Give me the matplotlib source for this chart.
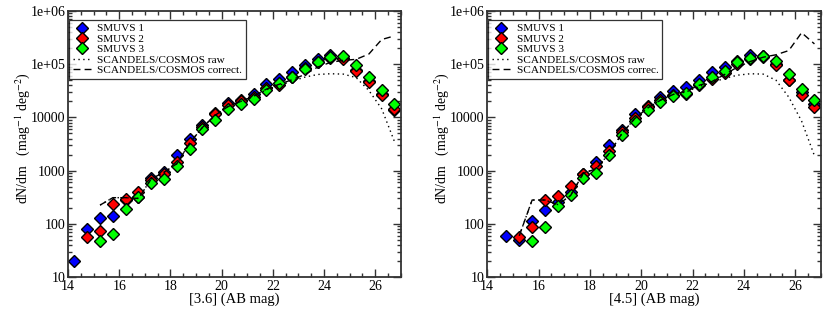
import numpy as np
import matplotlib
matplotlib.use("Agg")
from matplotlib import pyplot as plt
from matplotlib.ticker import LogLocator, MultipleLocator, NullFormatter

plt.rcParams['font.family'] = ['Liberation Serif', 'DejaVu Serif']
plt.rcParams['mathtext.fontset'] = 'stix'

nan = np.nan

# magnitude bin centres
mags = [14.25, 14.75, 15.25, 15.75, 16.25, 16.75, 17.25, 17.75, 18.25,
        18.75, 19.25, 19.75, 20.25, 20.75, 21.25, 21.75, 22.25, 22.75,
        23.25, 23.75, 24.25, 24.75, 25.25, 25.75, 26.25, 26.75]

# ---- [3.6] panel ----
ch1_smuvs1 = [20, 80, 130, 140, 280, 320, 720, 930, 2000, 3900, 7200, 12000, 18500,
              21000, 27000, 42000, 52000, 72000, 95000, 127000, 147000, 128000,
              78000, 48000, 27000, 13800]
ch1_smuvs2 = [nan, 56, 73, 235, 292, 391, 665, 863, 1430, 3340, 6680, 11400, 17100,
              20000, 24500, 35200, 40700, 58200, 83700, 111000, 129000, 123000,
              75500, 46900, 26400, 14400]
ch1_smuvs3 = [nan, nan, 48, 64, 192, 315, 577, 686, 1240, 2580, 5970, 8930, 14200,
              17900, 22500, 32700, 44900, 58200, 80100, 108000, 138000, 143000,
              96600, 56700, 32700, 17900]
ch1_correct = [nan, nan, 225, 310, 310, 300, 700, 930, 1350, 3300, 6500, 11000, 16000,
               20000, 25000, 34000, 42000, 51000, 64000, 88000, 108000, 118000,
               123000, 155000, 290000, 340000]
ch1_raw = [nan, nan, 225, 310, 310, 300, 700, 930, 1350, 3300, 6500, 11000, 16000,
           20000, 25000, 33000, 40000, 48000, 57000, 64000, 66000, 65000,
           56000, 32000, 14500, 3500]

# ---- [4.5] panel ----
ch2_smuvs1 = [nan, 60, 50, 114, 184, 260, 390, 877, 1460, 3050, 5690, 11700, 16300,
              24100, 31300, 37900, 49900, 71600, 86700, 116000, 148000, 140000,
              100000, 50600, 30000, 18100]
ch2_smuvs2 = [nan, nan, 56, 89, 284, 327, 521, 877, 1240, 2310, 5370, 9860, 15600,
              21000, 26000, 28000, 40200, 52100, 67600, 98600, 124000, 137000,
              97000, 50000, 26000, 15800]
ch2_smuvs3 = [nan, nan, nan, 48, 89, 219, 352, 716, 904, 2000, 4570, 8510, 13500,
              19400, 25200, 29200, 42000, 58600, 74800, 108000, 130000, 140000,
              116000, 66700, 34800, 20900]
ch2_correct = [nan, nan, 60, 280, 280, 230, 340, 900, 1080, 2100, 5000, 9500, 15000,
               21000, 27000, 31000, 40000, 47000, 64000, 88000, 112000, 135000,
               150000, 180000, 390000, 240000]
ch2_raw = [nan, nan, 60, 280, 280, 230, 340, 900, 1080, 2100, 5000, 9500, 15000,
           21000, 27000, 30000, 38000, 45000, 54000, 62000, 66000, 65000,
           50000, 24000, 8500, 1900]

yticks = [10, 100, 1000, 10000, 1e5, 1e6]
ytick_labels = ['10', '100', '1000', '10000', '1e+05', '1e+06']


def draw_panel(ax, s1, s2, s3, raw, corr, xlabel, corr_label):
    mk = dict(marker='D', ls='none', ms=6.5, mec='black', mew=1.0)
    ax.plot(mags, s1, mfc='#0000ff', label='SMUVS 1', **mk)
    ax.plot(mags, s2, mfc='#ff0000', label='SMUVS 2', **mk)
    ax.plot(mags, s3, mfc='#00ff00', label='SMUVS 3', **mk)
    ax.plot(mags, raw, color='black', ls=(0, (1, 2.5)), lw=1.0,
            label='SCANDELS/COSMOS raw')
    ax.plot(mags, corr, color='black', ls=(0, (5, 3)), lw=1.0, label=corr_label)

    ax.set_yscale('log')
    ax.set_xlim(14, 27)
    ax.set_ylim(10, 1e6)
    ax.set_yticks(yticks)
    ax.set_yticklabels(ytick_labels)
    ax.yaxis.set_minor_locator(LogLocator(base=10, subs=np.arange(2, 10)))
    ax.yaxis.set_minor_formatter(NullFormatter())
    ax.xaxis.set_major_locator(MultipleLocator(2))
    ax.xaxis.set_minor_locator(MultipleLocator(0.5))
    ax.tick_params(which='both', direction='in', top=True, right=True,
                   labelsize=10, width=1.0, colors='#333333', labelcolor='black')
    ax.tick_params(which='major', length=6, pad=2)
    ax.tick_params(which='minor', length=3)
    for sp in ax.spines.values():
        sp.set_linewidth(1.3)
        sp.set_color('#333333')

    ax.set_xlabel(xlabel, fontsize=10.5, labelpad=0)
    ax.set_ylabel(r'dN/dm   (mag$^{-1}$ deg$^{-2}$)', fontsize=10)
    ax.yaxis.set_label_coords(-0.108, 0.52)

    leg = ax.legend(loc='upper left', bbox_to_anchor=(0.003, 0.966),
                    borderaxespad=0, fontsize=8.1, frameon=True, fancybox=False,
                    edgecolor='black', labelspacing=0.05, handlelength=1.6,
                    handletextpad=0.6, borderpad=0.32, numpoints=1)
    leg.get_frame().set_linewidth(0.9)


fig = plt.figure(figsize=(8.3, 3.12), dpi=100)
ax1 = fig.add_axes([0.082, 0.112, 0.401, 0.853])
ax2 = fig.add_axes([0.587, 0.112, 0.402, 0.853])

draw_panel(ax1, ch1_smuvs1, ch1_smuvs2, ch1_smuvs3, ch1_raw, ch1_correct,
           '[3.6] (AB mag)', 'SCANDELS/COSMOS correct.')
draw_panel(ax2, ch2_smuvs1, ch2_smuvs2, ch2_smuvs3, ch2_raw, ch2_correct,
           '[4.5] (AB mag)', 'SCANDELS/COSMOS correc.')

fig.savefig('out.png', dpi=100)
